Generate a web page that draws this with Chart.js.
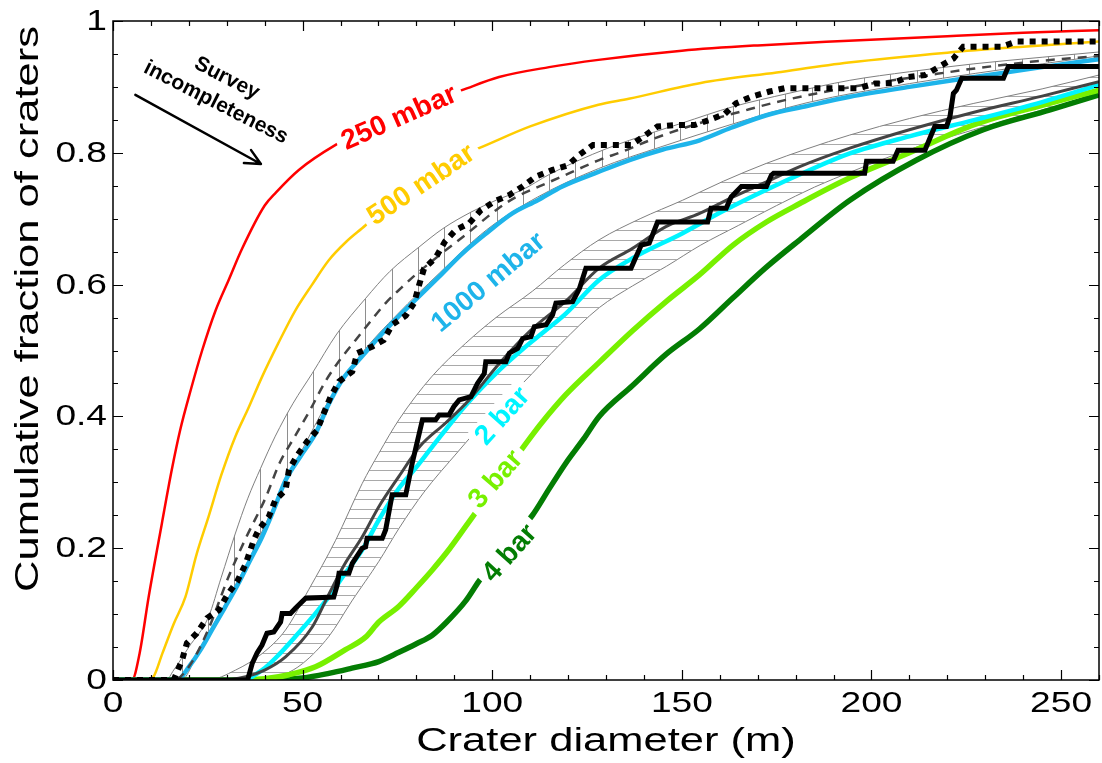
<!DOCTYPE html>
<html>
<head>
<meta charset="utf-8">
<script src="https://cdn.jsdelivr.net/npm/chart.js@4.4.1/dist/chart.umd.min.js"></script>
<style>
  html, body { margin: 0; padding: 0; background: #fff; }
  #c { display: block; }
</style>
</head>
<body>
<canvas id="c" width="1102" height="763"></canvas>
<script>
// Axis ticks
const xMajorTicks = [0, 50, 100, 150, 200, 250];
const yMajorTicks = [0, 0.2, 0.4, 0.6, 0.8, 1];
const yTickLabels = ['0', '0.2', '0.4', '0.6', '0.8', '1'];
const xTitle = 'Crater diameter (m)';
const yTitle = 'Cumulative fraction of craters';

// Modelled cumulative distributions, one per surface pressure
const d250 = [0, 5, 7, 9.4, 12.9, 15.5, 17.7, 20.5, 23.5, 27, 30.5, 34, 40, 43, 49, 58.7, 70, 80, 92, 101.8, 115, 128, 150, 170, 194, 220, 240, 260];
const f250 = [0, 0, 0.04, 0.126, 0.238, 0.319, 0.379, 0.44, 0.5, 0.56, 0.607, 0.654, 0.72, 0.74, 0.774, 0.812, 0.845, 0.87, 0.895, 0.915, 0.93, 0.941, 0.955, 0.963, 0.970, 0.977, 0.982, 0.986];

const d500 = [0, 9, 10.7, 13, 16, 19.1, 22, 25.2, 28.5, 32.3, 35.5, 39.3, 43.5, 48.1, 52.5, 56.9, 61.5, 66.6, 74, 82, 89, 96.5, 110, 128, 136, 155, 175, 194, 220, 240, 260];
const f500 = [0, 0, 0.005, 0.04, 0.085, 0.126, 0.19, 0.248, 0.31, 0.37, 0.41, 0.46, 0.51, 0.561, 0.60, 0.637, 0.665, 0.69, 0.73, 0.765, 0.79, 0.807, 0.84, 0.873, 0.882, 0.906, 0.922, 0.937, 0.952, 0.961, 0.969];

const d1000 = [0, 17, 20, 23, 26.1, 29.5, 33.1, 36, 39.3, 42.5, 45.5, 49.5, 53.4, 57, 60.4, 65.5, 71, 75, 79.8, 86, 92.1, 98.5, 105.3, 112, 118.5, 128, 136.2, 145, 154.7, 163, 172.3, 183, 194.3, 210, 227.3, 245, 260];
const f1000 = [0, 0, 0.02, 0.045, 0.076, 0.11, 0.147, 0.18, 0.217, 0.26, 0.303, 0.34, 0.374, 0.42, 0.455, 0.49, 0.526, 0.55, 0.577, 0.612, 0.647, 0.678, 0.708, 0.728, 0.749, 0.771, 0.789, 0.805, 0.819, 0.838, 0.857, 0.871, 0.885, 0.9, 0.915, 0.93, 0.942];

const d2bar = [0, 34, 39.3, 44, 48.1, 52.5, 56.9, 61, 65.7, 70.1, 75.4, 80, 84.2, 93, 101.8, 108, 114.2, 119.4, 128.2, 137, 150.2, 161, 172.3, 183, 194.3, 210, 227.3, 245, 260];
const f2bar = [0, 0, 0.015, 0.04, 0.066, 0.095, 0.126, 0.16, 0.197, 0.243, 0.291, 0.323, 0.354, 0.417, 0.47, 0.502, 0.531, 0.556, 0.607, 0.64, 0.678, 0.712, 0.744, 0.772, 0.799, 0.825, 0.85, 0.877, 0.903];

const d3bar = [0, 30, 40, 46.4, 53.4, 61.3, 66.6, 70.1, 75.4, 80, 84.2, 88.6, 93, 96.1, 102, 108, 113, 119.4, 128.2, 137, 146, 154.7, 163.5, 172.3, 181.1, 194.3, 210, 227.3, 245, 260];
const f3bar = [0, 0, 0.002, 0.008, 0.02, 0.046, 0.065, 0.088, 0.112, 0.14, 0.167, 0.198, 0.233, 0.258, 0.305, 0.352, 0.39, 0.433, 0.482, 0.53, 0.575, 0.615, 0.66, 0.695, 0.723, 0.762, 0.8, 0.843, 0.872, 0.895];

const d4bar = [0, 40, 50, 56.9, 63, 70.1, 75.4, 80, 84.2, 88, 93, 96.5, 103, 110.6, 115, 119.4, 124, 128.2, 137, 145.8, 154.7, 163.5, 172, 181.1, 194.3, 211.9, 229.5, 247.1, 260];
const f4bar = [0, 0, 0.003, 0.01, 0.018, 0.028, 0.042, 0.055, 0.068, 0.088, 0.12, 0.15, 0.2, 0.25, 0.29, 0.329, 0.365, 0.4, 0.447, 0.494, 0.533, 0.58, 0.625, 0.668, 0.728, 0.789, 0.835, 0.865, 0.888];

// Envelope fitted to the first crater population (vertical hatching)
const dUpHi = [0, 14, 16, 20, 25.2, 28.5, 32.3, 35.5, 38.9, 42.8, 47.5, 52.5, 59, 66.6, 73, 80.7, 87, 94.4, 101, 108, 115, 123, 130, 136.2, 150, 163.5, 178, 194.3, 210, 227, 245, 260];
const fUpHi = [0, 0, 0.015, 0.05, 0.096, 0.155, 0.223, 0.275, 0.321, 0.37, 0.42, 0.465, 0.525, 0.579, 0.62, 0.657, 0.685, 0.71, 0.728, 0.744, 0.767, 0.789, 0.806, 0.819, 0.845, 0.87, 0.89, 0.91, 0.923, 0.935, 0.945, 0.953];
const dUpMid = [0, 16, 20, 25, 30.5, 35, 40.2, 44, 48, 52, 56, 60, 64, 68, 71.9, 76, 79.8, 84, 87.7, 91.3, 95, 101, 106, 112.4, 118, 123, 128.2, 134.4, 142, 150.2, 157, 165.2, 175, 185.5, 200, 214, 227.3, 242, 260];
const fUpMid = [0, 0, 0.02, 0.075, 0.157, 0.215, 0.276, 0.33, 0.37, 0.41, 0.453, 0.487, 0.516, 0.545, 0.572, 0.595, 0.615, 0.635, 0.652, 0.668, 0.685, 0.713, 0.732, 0.749, 0.763, 0.776, 0.789, 0.802, 0.82, 0.837, 0.849, 0.862, 0.877, 0.89, 0.905, 0.917, 0.928, 0.938, 0.947];
const dUpLo = [0, 18, 23, 29.5, 36, 42.5, 49.5, 57, 65.5, 75, 86, 98.5, 112, 128, 145, 163, 183, 210, 245, 260];
const fUpLo = [0, 0, 0.05, 0.115, 0.185, 0.265, 0.345, 0.425, 0.495, 0.555, 0.617, 0.683, 0.733, 0.776, 0.81, 0.843, 0.876, 0.905, 0.935, 0.947];

// Envelope fitted to the second crater population (horizontal hatching)
const dLoHi = [0, 25, 32.3, 39.3, 45.5, 51.6, 58.7, 65.7, 70.1, 75.4, 84, 93, 101, 110.6, 119, 128.2, 139, 150.2, 161, 172.3, 183, 194.3, 210, 227, 245, 260];
const fLoHi = [0, 0, 0.015, 0.04, 0.076, 0.137, 0.212, 0.298, 0.344, 0.395, 0.46, 0.511, 0.55, 0.59, 0.63, 0.668, 0.7, 0.728, 0.757, 0.784, 0.806, 0.827, 0.852, 0.875, 0.897, 0.918];
const dLoMid = [0, 28, 35, 40, 45.5, 52.5, 56.9, 61, 65.7, 70.1, 75.4, 81, 87.7, 93.9, 101.8, 110, 119.4, 128.2, 137, 145.8, 154.7, 163.5, 172, 181.1, 194.3, 210, 227.3, 245, 260];
const fLoMid = [0, 0, 0.005, 0.015, 0.035, 0.08, 0.13, 0.175, 0.217, 0.263, 0.309, 0.355, 0.39, 0.425, 0.48, 0.53, 0.575, 0.625, 0.655, 0.688, 0.708, 0.733, 0.755, 0.779, 0.807, 0.835, 0.862, 0.886, 0.908];
const dLoLo = [0, 40, 45, 50, 56.9, 63, 70.1, 75.4, 82, 90, 100, 108, 118, 128.2, 137, 146, 155, 165, 175, 185, 195, 210, 227, 245, 260];
const fLoLo = [0, 0, 0.008, 0.025, 0.066, 0.12, 0.18, 0.23, 0.285, 0.34, 0.405, 0.45, 0.51, 0.565, 0.598, 0.628, 0.66, 0.69, 0.72, 0.748, 0.772, 0.805, 0.835, 0.865, 0.888];

// Observed cumulative fractions of the two crater populations
const dObsA = [0, 16, 18.2, 19.5, 22.1, 24.8, 27.9, 30.1, 32.7, 34.9, 37.1, 38.4, 41.1, 42.8, 45.5, 46.4, 48.6, 51.2, 53.8, 55.6, 57.4, 59.6, 63.1, 64.4, 68.4, 71.4, 73.6, 77.2, 79.4, 80.7, 82, 85.1, 87.5, 90.4, 93.9, 97, 100.5, 104.5, 108, 111.5, 115.9, 119.9, 123, 126.6, 131, 136.6, 139.7, 143.6, 148, 153.3, 157.3, 161.3, 164.3, 168.3, 173.1, 177.1, 186.8, 196.5, 200.9, 205.7, 209.7, 214.1, 218, 221.6, 224.2, 234.3, 238.3, 260];
const fObsA = [0, 0, 0.03, 0.056, 0.071, 0.094, 0.106, 0.129, 0.149, 0.175, 0.212, 0.228, 0.248, 0.273, 0.288, 0.319, 0.341, 0.362, 0.379, 0.405, 0.43, 0.453, 0.468, 0.496, 0.506, 0.516, 0.539, 0.553, 0.572, 0.599, 0.624, 0.641, 0.665, 0.683, 0.693, 0.713, 0.726, 0.736, 0.749, 0.764, 0.774, 0.781, 0.797, 0.812, 0.812, 0.812, 0.824, 0.84, 0.842, 0.842, 0.85, 0.859, 0.875, 0.885, 0.893, 0.898, 0.898, 0.898, 0.905, 0.906, 0.915, 0.918, 0.931, 0.943, 0.961, 0.961, 0.969, 0.969];
const dObsB = [0, 35.5, 36.7, 38.0, 39.3, 40.6, 42.4, 44.2, 44.6, 46.8, 48.1, 50.8, 58.2, 59.1, 59.6, 62.2, 63.1, 65.7, 66.6, 67.0, 71.0, 71.9, 73.6, 77.2, 78.9, 81.6, 85.1, 86.0, 88.6, 89.9, 91.3, 94.4, 96.1, 97.9, 98.3, 103.6, 104.5, 106.7, 108, 110.2, 111.1, 114.2, 115.9, 116.8, 121.2, 123, 124.7, 136.6, 137.9, 139.3, 141.4, 143.6, 156.8, 157.7, 161.7, 163, 165.7, 172.3, 173.6, 174.2, 198.2, 198.7, 205.7, 207, 214.1, 215.4, 216.7, 219.8, 220.7, 221.6, 222.4, 223.8, 234.8, 236.1, 260];
const fObsB = [0, 0, 0.025, 0.041, 0.053, 0.071, 0.073, 0.088, 0.101, 0.101, 0.109, 0.124, 0.126, 0.144, 0.162, 0.162, 0.177, 0.2, 0.202, 0.215, 0.215, 0.228, 0.281, 0.281, 0.329, 0.395, 0.395, 0.402, 0.402, 0.415, 0.425, 0.43, 0.45, 0.465, 0.483, 0.483, 0.496, 0.503, 0.518, 0.521, 0.536, 0.539, 0.554, 0.572, 0.574, 0.594, 0.625, 0.625, 0.642, 0.66, 0.663, 0.695, 0.695, 0.716, 0.716, 0.733, 0.749, 0.749, 0.766, 0.769, 0.769, 0.787, 0.787, 0.804, 0.804, 0.822, 0.84, 0.84, 0.855, 0.89, 0.895, 0.913, 0.913, 0.931, 0.931];

// In-plot labels: anchor in data units, rotation in degrees
const curveLabels = [
  { text: '250 mbar',  x: 75.4,  y: 0.854, angle: -24, color: '#ff0000' },
  { text: '500 mbar',  x: 81.2,  y: 0.752, angle: -34, color: '#ffcc00' },
  { text: '1000 mbar', x: 98.9,  y: 0.604, angle: -40, color: '#1eb4ea' },
  { text: '2 bar',     x: 102.6, y: 0.401, angle: -48, color: '#00f4ff' },
  { text: '3 bar',     x: 100.8, y: 0.305, angle: -49, color: '#77f000' },
  { text: '4 bar',     x: 104.5, y: 0.193, angle: -48, color: '#037d03' }
];
const noteLines = [
  { text: 'Survey',         x: 30.0, y: 0.913 },
  { text: 'incompleteness', x: 27.1, y: 0.876 }
];
const noteAngle = 27;
const noteArrow = { x0: 5.9, y0: 0.888, x1: 39, y1: 0.783 };

const pts = (xs, ys) => xs.map((v, i) => ({ x: v, y: ys[i] }));

const canvas = document.getElementById('c');
const ctx = canvas.getContext('2d');

function hatchPattern(w, h, offsets, vertical, color) {
  const c = document.createElement('canvas');
  c.width = w; c.height = h;
  const g = c.getContext('2d');
  g.fillStyle = color;
  offsets.forEach(p => vertical ? g.fillRect(p, 0, 1, h) : g.fillRect(0, p, w, 1));
  return ctx.createPattern(c, 'repeat');
}
const vHatch = hatchPattern(105, 8, [24, 50, 77, 103], true, '#8e8e8e');
const hHatch = hatchPattern(8, 48, [0, 10, 19, 29, 38], false, '#a9a9a9');

const smooth = { cubicInterpolationMode: 'monotone', pointRadius: 0, fill: false };
const edge = { ...smooth, borderColor: '#808080', borderWidth: 1 };

const datasets = [
  { label: 'obs B', data: pts(dObsB, fObsB), borderColor: '#000', borderWidth: 5, pointRadius: 0, fill: false, borderJoinStyle: 'miter' },
  { label: 'obs A', data: pts(dObsA, fObsA), borderColor: '#000', borderWidth: 6, borderDash: [6, 6], pointRadius: 0, fill: false },
  { label: 'fit A', data: pts(dUpMid, fUpMid), ...smooth, borderColor: '#444', borderWidth: 2.5, borderDash: [9, 7] },
  { label: 'fit B', data: pts(dLoMid, fLoMid), ...smooth, borderColor: '#444', borderWidth: 3 },
  { label: '2 bar', data: pts(d2bar, f2bar), ...smooth, borderColor: '#00f4ff', borderWidth: 4.5 },
  { label: '1000 mbar', data: pts(d1000, f1000), ...smooth, borderColor: '#1eb4ea', borderWidth: 4.5 },
  { label: '3 bar', data: pts(d3bar, f3bar), ...smooth, borderColor: '#77f000', borderWidth: 5.5 },
  { label: '4 bar', data: pts(d4bar, f4bar), ...smooth, borderColor: '#037d03', borderWidth: 5.5 },
  { label: '250 mbar', data: pts(d250, f250), ...smooth, borderColor: '#ff0000', borderWidth: 2.5 },
  { label: '500 mbar', data: pts(d500, f500), ...smooth, borderColor: '#ffcc00', borderWidth: 2.5 },
  { label: 'band A high', data: pts(dUpHi, fUpHi), ...edge, fill: 11, backgroundColor: vHatch },
  { label: 'band A low', data: pts(dUpLo, fUpLo), ...edge },
  { label: 'band B high', data: pts(dLoHi, fLoHi), ...edge, fill: 13, backgroundColor: hHatch },
  { label: 'band B low', data: pts(dLoLo, fLoLo), ...edge }
];

const FONT = '"Liberation Sans", Arial, Helvetica, sans-serif';
const STRETCH = 1.28;

function wideText(c, str, x, y, size, align, baseline, rot) {
  c.save();
  c.translate(x, y);
  if (rot) c.rotate(rot);
  c.scale(STRETCH, 1);
  c.font = size + 'px ' + FONT;
  c.textAlign = align;
  c.textBaseline = baseline;
  c.fillStyle = '#000';
  c.fillText(str, 0, 0);
  c.restore();
}

const decorations = {
  id: 'decorations',
  beforeDraw(chart) {
    const c = chart.ctx;
    c.save();
    c.fillStyle = '#fff';
    c.fillRect(0, 0, chart.width, chart.height);
    c.restore();
  },
  afterDatasetsDraw(chart) {
    const c = chart.ctx;
    const a = chart.chartArea;
    const xs = chart.scales.x, ys = chart.scales.y;

    // curve labels, each on a white plate that interrupts the curve
    curveLabels.forEach(l => {
      const px = xs.getPixelForValue(l.x), py = ys.getPixelForValue(l.y);
      c.save();
      c.translate(px, py);
      c.rotate(l.angle * Math.PI / 180);
      c.font = 'bold 28px ' + FONT;
      const w = c.measureText(l.text).width;
      c.fillStyle = '#fff';
      c.fillRect(-w / 2 - 6, -14, w + 12, 28);
      c.fillStyle = l.color;
      c.textAlign = 'center';
      c.textBaseline = 'middle';
      c.fillText(l.text, 0, 1);
      c.restore();
    });

    // survey incompleteness note and arrow
    noteLines.forEach(n => {
      c.save();
      c.translate(xs.getPixelForValue(n.x), ys.getPixelForValue(n.y));
      c.rotate(noteAngle * Math.PI / 180);
      c.font = 'bold 21px ' + FONT;
      c.fillStyle = '#000';
      c.textAlign = 'center';
      c.textBaseline = 'middle';
      c.fillText(n.text, 0, 0);
      c.restore();
    });
    const ax0 = xs.getPixelForValue(noteArrow.x0), ay0 = ys.getPixelForValue(noteArrow.y0);
    const ax1 = xs.getPixelForValue(noteArrow.x1), ay1 = ys.getPixelForValue(noteArrow.y1);
    const ang = Math.atan2(ay1 - ay0, ax1 - ax0);
    c.save();
    c.strokeStyle = '#000';
    c.lineWidth = 2.5;
    c.lineCap = 'round';
    c.beginPath();
    c.moveTo(ax0, ay0); c.lineTo(ax1, ay1);
    [-0.45, 0.45].forEach(d => {
      c.moveTo(ax1, ay1);
      c.lineTo(ax1 - 17 * Math.cos(ang + d), ay1 - 17 * Math.sin(ang + d));
    });
    c.stroke();
    c.restore();

    // frame with inward ticks on all four sides
    c.save();
    c.strokeStyle = '#000';
    c.lineWidth = 1.5;
    c.strokeRect(a.left, a.top, a.right - a.left, a.bottom - a.top);
    c.lineWidth = 1.2;
    c.beginPath();
    for (let v = 0; v <= 260; v += 10) {
      const px = Math.round(xs.getPixelForValue(v)) + 0.5;
      const len = v % 50 === 0 ? 10 : 5;
      c.moveTo(px, a.bottom); c.lineTo(px, a.bottom - len);
      c.moveTo(px, a.top); c.lineTo(px, a.top + len);
    }
    for (let k = 0; k <= 20; k++) {
      const py = Math.round(ys.getPixelForValue(k * 0.05)) + 0.5;
      const len = k % 4 === 0 ? 10 : 5;
      c.moveTo(a.left, py); c.lineTo(a.left + len, py);
      c.moveTo(a.right, py); c.lineTo(a.right - len, py);
    }
    c.stroke();
    c.restore();

    // tick labels
    xMajorTicks.forEach(v => {
      wideText(c, String(v), xs.getPixelForValue(v), a.bottom + 24, 29, 'center', 'middle');
    });
    yMajorTicks.forEach((v, i) => {
      const str = yTickLabels[i];
      c.save();
      c.font = '29px ' + FONT;
      const w = c.measureText(str).width * STRETCH;
      c.restore();
      wideText(c, str, a.left - 6 - w, ys.getPixelForValue(v) + 1, 29, 'left', 'middle');
    });

    // axis titles
    wideText(c, xTitle, (a.left + a.right) / 2, 742, 34, 'center', 'middle');
    wideText(c, yTitle, 38, 309, 34, 'center', 'alphabetic', -Math.PI / 2);
  }
};

new Chart(ctx, {
  type: 'line',
  data: { datasets },
  options: {
    responsive: false,
    animation: false,
    devicePixelRatio: 1,
    layout: { padding: { top: 21, right: 3, left: 0, bottom: 0 } },
    plugins: { legend: { display: false }, tooltip: { enabled: false } },
    elements: { point: { radius: 0 } },
    scales: {
      x: {
        type: 'linear', min: 0, max: 260,
        ticks: { display: false }, grid: { display: false }, border: { display: false },
        afterFit(s) { s.height = 83; }
      },
      y: {
        type: 'linear', min: 0, max: 1,
        ticks: { display: false }, grid: { display: false }, border: { display: false },
        afterFit(s) { s.width = 113; }
      }
    }
  },
  plugins: [decorations]
});
</script>
</body>
</html>
